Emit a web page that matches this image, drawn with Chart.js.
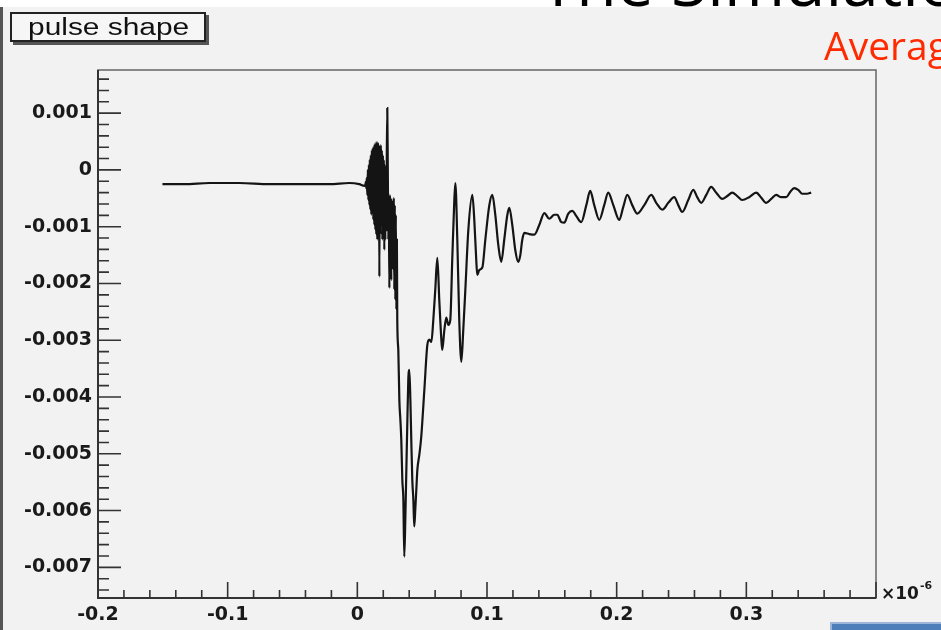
<!DOCTYPE html>
<html lang="en">
<head>
    <meta charset="UTF-8">
    <title>pulse shape</title>
    <style>
        body { margin: 0; width: 941px; height: 630px; overflow: hidden; background: #fff; position: relative; }
        .pad { position: absolute; left: 0; top: 7px; width: 941px; height: 623px; background: #f2f2f2; box-sizing: border-box; border-left: 3px solid #555; }
        .slide-title { position: absolute; left: 540px; top: 0; width: 401px; height: 7px; overflow: hidden; }
        .slide-title span { position: absolute; left: 0; top: -53px; font: 66px "Open Sans", sans-serif; line-height: 1; white-space: nowrap; color: #000; }
        canvas { position: absolute; left: 0; top: 0; }
        .title-box { position: absolute; left: 10px; top: 12px; width: 196px; height: 30px; box-sizing: border-box; border: 2px solid #222; background: #f6f6f6; box-shadow: 3px 3px 0 #555; }
        .title-box span { position: absolute; left: 16px; top: 0; font: 23px "Liberation Sans", sans-serif; line-height: 27px; color: #111; transform: scale(1.3, 1); transform-origin: left center; white-space: nowrap; }
        .subtitle { position: absolute; left: 824px; top: 18px; font: 39px "Open Sans", sans-serif; color: #ff2a00; white-space: nowrap; }
        .blue-box { position: absolute; left: 830px; top: 622px; width: 120px; height: 12px; background: #4f7fb8; border-top: 2px solid #9bb6d8; border-left: 2px solid #9bb6d8; }
    </style>
</head>
<body>
    <div class="pad"></div>
    <div class="slide-title"><span>The Simulation</span></div>
    <canvas class="pulse-chart" width="941" height="630"></canvas>
    <div class="title-box"><span>pulse shape</span></div>
    <div class="subtitle">Average</div>
    <div class="blue-box"></div>

    <script src="https://cdn.jsdelivr.net/npm/chart.js@4/dist/chart.umd.min.js"></script>
    <script>
        // time in ns (axis shows units of 1e-6 s)
        const timeNs = [
            -150.3, -133.4, -114.1, -91.0, -67.8, -44.7, -21.6, -6.2, 1.5, 5.4,
            // fast burst
            6.2, 6.6, 6.9, 7.3, 7.7, 8.1, 8.5, 8.9, 9.3, 9.6,
            10.0, 10.4, 10.8, 11.2, 11.6, 12.0, 12.3, 12.7, 13.1, 13.5,
            13.9, 14.3, 14.6, 15.0, 15.4, 15.8, 16.2, 16.6, 17.0, 17.3,
            17.7, 18.1, 18.5, 18.9, 19.3, 19.7, 20.0, 20.4, 20.8, 21.2,
            21.6, 22.0, 22.4, 22.7, 23.1, 23.5, 23.9, 24.3, 24.7, 25.1,
            25.4, 25.8, 26.2, 26.6, 27.0, 27.4, 27.8, 28.1, 28.5, 28.9,
            29.3, 29.7, 30.1, 30.5, 30.8,
            // main negative pulse
            31.6, 32.4, 33.2, 33.9, 34.7, 35.5, 36.2,
            37.0, 37.8, 38.6, 39.3, 40.1, 40.9, 41.6, 42.4, 43.2, 43.9,
            44.7, 45.5, 46.3, 47.8, 49.3, 51.7, 54.0, 55.5, 57.1, 58.6,
            60.1, 61.7, 63.2, 64.8, 65.5, 67.1, 68.6, 70.2, 71.7, 73.2,
            74.8, 75.6, 77.1, 78.6, 80.2, 81.7, 83.3, 85.6, 88.7, 90.2,
            91.7, 92.5, 94.1, 96.4, 98.7, 101.8, 104.1, 106.4, 108.7, 111.0,
            113.3, 115.7, 117.2, 119.5, 121.8, 124.1, 125.7, 127.2, 128.8, 132.6,
            // ringing tail
            136.5, 140.3, 144.2, 148.0, 151.9, 154.2, 157.3, 159.6, 162.7, 165.8,
            168.8, 172.7, 176.6, 179.6, 182.7, 186.6, 190.4, 193.5, 197.4, 202.0,
            205.1, 208.2, 212.0, 215.9, 221.3, 226.7, 230.5, 235.2, 239.8, 244.4,
            247.5, 250.6, 255.2, 259.1, 262.1, 265.2, 269.1, 272.9, 276.8, 281.4,
            285.3, 289.1, 293.0, 296.8, 302.2, 307.6, 311.5, 315.3, 319.2, 323.0,
            326.9, 330.8, 333.8, 336.9, 340.0, 343.1, 346.9, 350.0
        ];

        // amplitude in units of 1e-3
        const amplitudeMilli = [
            -0.25, -0.25, -0.23, -0.23, -0.25, -0.25, -0.25, -0.23, -0.25, -0.28,
            // fast burst
            -0.26, -0.21, -0.32, -0.14, -0.44, 0.00, -0.53, 0.09, -0.62, 0.18,
            -0.70, 0.26, -0.79, 0.35, -0.74, 0.39, -0.88, 0.42, -0.97, 0.46,
            -1.06, 0.48, -1.14, 0.49, -1.23, 0.49, -1.06, 0.44, -1.88, 0.35,
            -1.14, 0.44, -0.97, 0.35, -1.23, 0.26, -1.06, 0.18, -1.41, 0.09,
            -1.23, -0.09, -1.06, 0.18, 1.09, 0.00, -1.23, -0.53, -2.08, -0.44,
            -1.58, -0.49, -1.94, -0.53, -1.50, -0.62, -1.76, -0.49, -2.11, -0.62,
            -2.29, -0.79, -2.46, -1.23, -2.64,
            // main negative pulse
            -3.17, -4.05, -4.40, -4.75, -5.46, -5.81, -6.81,
            -6.16, -5.28, -4.40, -3.70, -3.52, -4.05, -4.75, -5.46, -5.81, -6.28,
            -5.98, -5.63, -5.28, -5.02, -4.70, -3.87, -3.08, -2.99, -3.03, -2.64,
            -2.11, -1.55, -2.29, -2.99, -3.17, -2.82, -2.60, -2.73, -2.64, -1.58,
            -0.53, -0.23, -1.23, -2.64, -3.38, -2.82, -2.11, -1.06, -0.44, -0.88,
            -1.58, -1.85, -1.76, -1.72, -1.23, -0.62, -0.44, -0.79, -1.32, -1.62,
            -1.23, -0.79, -0.67, -0.97, -1.41, -1.62, -1.50, -1.23, -1.11, -1.13,
            // ringing tail
            -1.14, -0.97, -0.76, -0.86, -0.79, -0.79, -0.92, -0.93, -0.77, -0.72,
            -0.81, -0.92, -0.62, -0.37, -0.62, -0.88, -0.62, -0.40, -0.62, -0.88,
            -0.65, -0.44, -0.62, -0.77, -0.62, -0.44, -0.58, -0.70, -0.58, -0.48,
            -0.62, -0.74, -0.53, -0.35, -0.48, -0.58, -0.44, -0.30, -0.40, -0.51,
            -0.46, -0.40, -0.46, -0.53, -0.48, -0.40, -0.49, -0.58, -0.51, -0.44,
            -0.48, -0.48, -0.39, -0.32, -0.35, -0.42, -0.42, -0.40
        ];

        const xTickValues = [-0.2, -0.1, 0, 0.1, 0.2, 0.3];
        const yTickValues = [-0.007, -0.006, -0.005, -0.004, -0.003, -0.002, -0.001, 0, 0.001];

        const points = timeNs.map((t, i) => ({ x: t / 1000, y: amplitudeMilli[i] / 1000 }));

        const tickFont = { family: 'DejaVu Sans', weight: 'bold', size: 19 };

        // ROOT style frame: inward major/minor ticks and the x10^-6 exponent
        const rootFrame = {
            id: 'rootFrame',
            afterDatasetsDraw(chart) {
                const { ctx, chartArea: a, scales: { x, y } } = chart;
                ctx.save();
                ctx.strokeStyle = '#666';
                ctx.lineWidth = 1.5;
                ctx.strokeRect(a.left, a.top, a.right - a.left, a.bottom - a.top);

                ctx.strokeStyle = '#333';
                ctx.lineWidth = 2;
                ctx.beginPath();
                ctx.moveTo(a.left, a.top);
                ctx.lineTo(a.left, a.bottom);
                ctx.lineTo(a.right, a.bottom);
                ctx.stroke();

                ctx.lineWidth = 1.6;
                ctx.beginPath();
                for (let i = -38; i <= 9; i++) {
                    const v = i * 0.0002;
                    if (v < y.min || v > y.max) continue;
                    const py = y.getPixelForValue(v);
                    const len = i % 5 === 0 ? 23 : 11;
                    ctx.moveTo(a.left, py);
                    ctx.lineTo(a.left + len, py);
                }
                for (let i = -10; i <= 20; i++) {
                    const v = i * 0.02;
                    if (v < x.min || v > x.max) continue;
                    const px = x.getPixelForValue(v);
                    const len = i % 5 === 0 ? 16 : 8;
                    ctx.moveTo(px, a.bottom);
                    ctx.lineTo(px, a.bottom - len);
                }
                ctx.stroke();

                ctx.fillStyle = '#1a1a1a';
                ctx.textBaseline = 'alphabetic';
                ctx.font = 'bold 17px "DejaVu Sans"';
                ctx.fillText('\u00d710', a.right + 5, a.bottom + 1);
                const w = ctx.measureText('\u00d710').width;
                ctx.font = 'bold 11px "DejaVu Sans"';
                ctx.fillText('-6', a.right + 6 + w, a.bottom - 9);
                ctx.restore();
            }
        };

        const ctx = document.querySelector('.pulse-chart').getContext('2d');
        const chart = new Chart(ctx, {
            type: 'line',
            data: {
                datasets: [{
                    label: 'pulse shape',
                    data: points,
                    borderColor: '#141414',
                    borderWidth: 2.2,
                    pointRadius: 0,
                    cubicInterpolationMode: 'monotone',
                    fill: false
                }]
            },
            options: {
                responsive: false,
                animation: false,
                layout: { padding: { top: 70, right: 65, left: 0, bottom: 0 } },
                plugins: {
                    legend: { display: false },
                    tooltip: { enabled: false }
                },
                scales: {
                    x: {
                        type: 'linear',
                        min: -0.2,
                        max: 0.4,
                        afterFit(scale) { scale.height = 32; },
                        afterBuildTicks(scale) { scale.ticks = xTickValues.map(v => ({ value: v })); },
                        grid: { display: false, drawTicks: false },
                        border: { display: false },
                        ticks: {
                            font: tickFont,
                            color: '#1a1a1a',
                            padding: 6,
                            maxRotation: 0,
                            autoSkip: false,
                            callback: v => String(v)
                        }
                    },
                    y: {
                        type: 'linear',
                        min: -0.00754,
                        max: 0.00176,
                        afterFit(scale) { scale.width = 98; },
                        afterBuildTicks(scale) { scale.ticks = yTickValues.map(v => ({ value: v })); },
                        grid: { display: false, drawTicks: false },
                        border: { display: false },
                        ticks: {
                            font: tickFont,
                            color: '#1a1a1a',
                            padding: 6,
                            autoSkip: false,
                            callback: v => String(v)
                        }
                    }
                }
            },
            plugins: [rootFrame]
        });
    </script>
</body>
</html>
